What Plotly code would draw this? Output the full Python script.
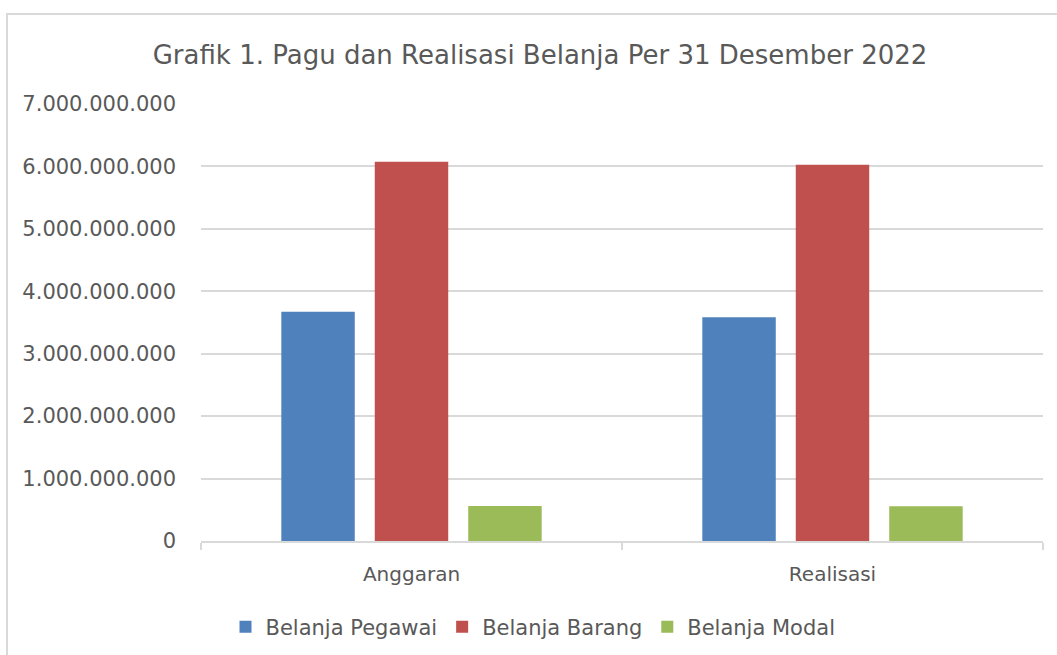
import plotly.graph_objects as go

categories = ["Anggaran", "Realisasi"]
series_names = ["Belanja Pegawai", "Belanja Barang", "Belanja Modal"]
belanja_pegawai = [3672000000, 3586000000]
belanja_barang = [6075000000, 6027000000]
belanja_modal = [560000000, 558000000]
tick_values = [0, 1e9, 2e9, 3e9, 4e9, 5e9, 6e9, 7e9]
colors = ["#4F81BD", "#C0504D", "#9BBB59"]

FONT = "DejaVu Sans"
TXT = "#595959"

fig = go.Figure()
for name, vals, col in zip(series_names, [belanja_pegawai, belanja_barang, belanja_modal], colors):
    fig.add_trace(go.Bar(name=name, x=categories, y=vals, marker=dict(color=col, line=dict(width=0))))

W, H = 1057, 655
L, R, T, B = 201, 14, 104, 114
pw, ph = W - L - R, H - T - B

def px2x(px):
    return (px - L) / pw

def py2y(py):
    return (H - B - py) / ph

fig.update_layout(
    width=W, height=H,
    margin=dict(l=L, r=R, t=T, b=B, autoexpand=False),
    paper_bgcolor="white", plot_bgcolor="white",
    separators=",.",
    barmode="group", bargap=0.334, bargroupgap=0.214,
    font=dict(family=FONT, color=TXT, size=20),
    title=dict(text="Grafik 1. Pagu dan Realisasi Belanja Per 31 Desember 2022",
               x=540 / W, xanchor="center", y=1 - 55 / H, yanchor="middle",
               font=dict(family=FONT, size=26, color=TXT)),
    showlegend=True,
    legend=dict(orientation="h", xref="container", yref="container",
                x=533 / W, xanchor="center", y=1 - 627 / H, yanchor="middle",
                font=dict(family=FONT, size=21, color=TXT), bgcolor="rgba(0,0,0,0)"),
    xaxis=dict(showline=True, linecolor="#D9D9D9", linewidth=2, ticks="outside", tickson="boundaries",
               ticklen=7, tickcolor="#D9D9D9", tickwidth=2, showgrid=False, automargin=False,
               tickfont=dict(family=FONT, size=20, color=TXT), ticklabelstandoff=14),
    yaxis=dict(range=[0, 7e9], tickvals=tick_values, tickformat=",d", showgrid=True,
               gridcolor="#D9D9D9", gridwidth=1.5, zeroline=False, showline=False, ticks="",
               automargin=False,
               tickfont=dict(family=FONT, size=21, color=TXT), ticklabelstandoff=24),
    shapes=[dict(type="rect", xref="paper", yref="paper",
                 x0=px2x(7), x1=px2x(1100), y0=py2y(700), y1=py2y(14),
                 line=dict(color="#D9D9D9", width=2), fillcolor="rgba(0,0,0,0)", layer="below")],
)

post = (
    "var s=document.documentElement.style;s.margin='0';s.padding='0';s.overflow='hidden';"
    "s.height='655px';"
    "var b=document.body.style;b.margin='0';b.padding='0';b.overflow='hidden';b.height='655px';"
)
fig.write_html("out.html", config={"displayModeBar": False}, post_script=post)
